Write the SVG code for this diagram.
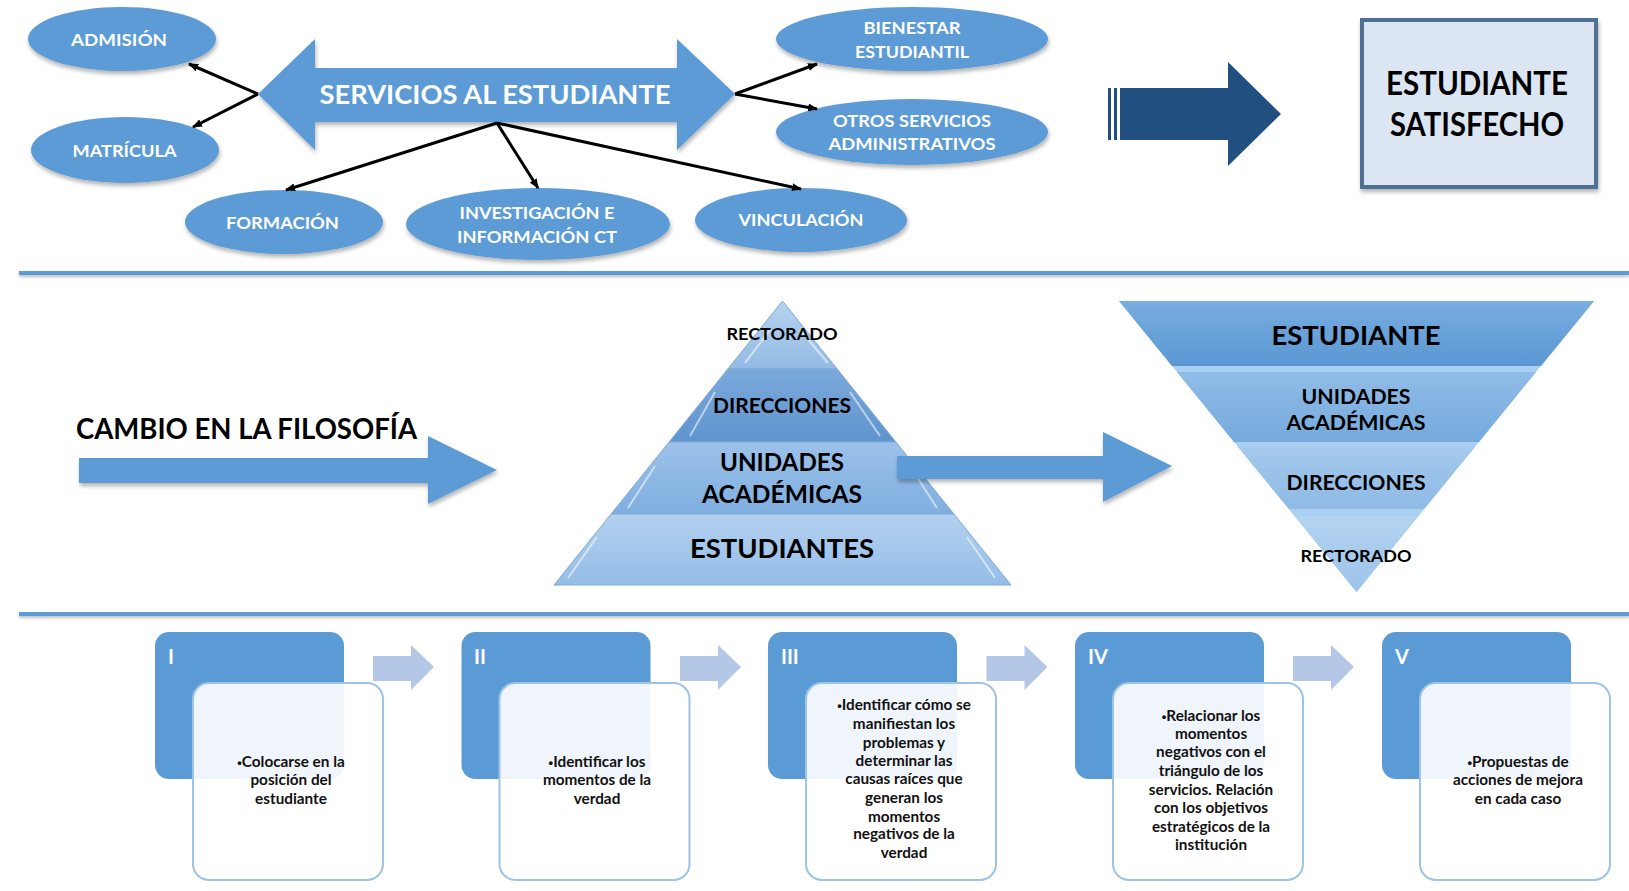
<svg xmlns="http://www.w3.org/2000/svg" width="1629" height="891" viewBox="0 0 1629 891">
<defs>
<style>
.ell{fill:#5B9BD5;filter:url(#sh)}
.wt{font-family:Lato,"Liberation Sans",sans-serif;font-weight:bold;fill:#fff;text-anchor:middle}
.bk{font-family:Lato,"Liberation Sans",sans-serif;font-weight:bold;fill:#000;text-anchor:middle}
.con{stroke:#000;stroke-width:3;fill:none;marker-end:url(#ah)}
.sep{fill:#5B9BD5;filter:url(#sh2)}
.blue{fill:#5B9BD5}
.card{fill:#fff;fill-opacity:0.9;stroke:#9DC3E6;stroke-width:2}
.sarr{fill:#B4C7E7}
.st{font-family:Lato,"Liberation Sans",sans-serif;font-weight:bold;font-size:15.3px;fill:#111;text-anchor:middle}
.bu{font-family:"Liberation Sans",sans-serif;font-size:13px}
.num{font-family:Lato,"Liberation Sans",sans-serif;font-weight:bold;font-size:20px;fill:#fff}
.pt{stroke:#7FA9D6;stroke-width:1}
</style>
<marker id="ah" markerWidth="10" markerHeight="8" refX="9" refY="4" orient="auto" markerUnits="userSpaceOnUse">
<path d="M0,0 L10,4 L0,8 Z" fill="#000"/>
</marker>
<filter id="sh" x="-20%" y="-20%" width="140%" height="150%">
<feDropShadow dx="1" dy="3" stdDeviation="2" flood-color="#000" flood-opacity="0.3"/>
</filter>
<filter id="sh2" x="-5%" y="-100%" width="110%" height="400%">
<feDropShadow dx="0" dy="2" stdDeviation="1.5" flood-color="#000" flood-opacity="0.25"/>
</filter>
<linearGradient id="g1" x1="0" y1="0" x2="0" y2="1"><stop offset="0" stop-color="#B7D3EF"/><stop offset="1" stop-color="#93BBE4"/></linearGradient>
<linearGradient id="g2" x1="0" y1="0" x2="0" y2="1"><stop offset="0" stop-color="#7BA9DB"/><stop offset="1" stop-color="#5F94CE"/></linearGradient>
<linearGradient id="g3" x1="0" y1="0" x2="0" y2="1"><stop offset="0" stop-color="#9CC2EA"/><stop offset="1" stop-color="#7FAEDF"/></linearGradient>
<linearGradient id="g4" x1="0" y1="0" x2="0" y2="1"><stop offset="0" stop-color="#B3D1F0"/><stop offset="1" stop-color="#95BDE7"/></linearGradient>
<linearGradient id="i1" x1="0" y1="0" x2="0" y2="1"><stop offset="0" stop-color="#78ADE0"/><stop offset="1" stop-color="#5A97D2"/></linearGradient>
<linearGradient id="i2" x1="0" y1="0" x2="0" y2="1"><stop offset="0" stop-color="#90BCE7"/><stop offset="1" stop-color="#76AADD"/></linearGradient>
<linearGradient id="i3" x1="0" y1="0" x2="0" y2="1"><stop offset="0" stop-color="#A4C9EC"/><stop offset="1" stop-color="#8EBAE5"/></linearGradient>
<linearGradient id="i4" x1="0" y1="0" x2="0" y2="1"><stop offset="0" stop-color="#B4D3F0"/><stop offset="1" stop-color="#9CC3EA"/></linearGradient>
</defs>
<rect width="1629" height="891" fill="#fff"/>

<!-- top section -->
<g id="servicios">
<path d="M258,94 L315,39 V68 H677 V39 L735,94 L677,150 V122 H315 V150 Z" fill="#5B9BD5" filter="url(#sh)"/>
<text class="wt" x="495" y="104" font-size="26" textLength="351" lengthAdjust="spacingAndGlyphs">SERVICIOS AL ESTUDIANTE</text>
</g>
<g id="admision"><ellipse class="ell" cx="122" cy="39" rx="94" ry="32"/><text class="wt" x="119" y="46" font-size="17" textLength="96" lengthAdjust="spacingAndGlyphs">ADMISIÓN</text></g>
<g id="matricula"><ellipse class="ell" cx="125" cy="150" rx="94" ry="33"/><text class="wt" x="124.5" y="157" font-size="17" textLength="104" lengthAdjust="spacingAndGlyphs">MATRÍCULA</text></g>
<g id="formacion"><ellipse class="ell" cx="284" cy="222" rx="99" ry="32"/><text class="wt" x="282.5" y="228.5" font-size="17" textLength="113" lengthAdjust="spacingAndGlyphs">FORMACIÓN</text></g>
<g id="investigacion"><ellipse class="ell" cx="538" cy="224" rx="132" ry="36"/><text class="wt" x="537" y="219" font-size="17" textLength="155" lengthAdjust="spacingAndGlyphs">INVESTIGACIÓN E</text><text class="wt" x="537" y="243" font-size="17" textLength="160" lengthAdjust="spacingAndGlyphs">INFORMACIÓN CT</text></g>
<g id="vinculacion"><ellipse class="ell" cx="801" cy="220" rx="106" ry="32"/><text class="wt" x="801" y="226" font-size="17" textLength="125" lengthAdjust="spacingAndGlyphs">VINCULACIÓN</text></g>
<g id="bienestar"><ellipse class="ell" cx="912" cy="39" rx="136" ry="32"/><text class="wt" x="912" y="34" font-size="17" textLength="97" lengthAdjust="spacingAndGlyphs">BIENESTAR</text><text class="wt" x="912" y="58" font-size="17" textLength="114" lengthAdjust="spacingAndGlyphs">ESTUDIANTIL</text></g>
<g id="otros"><ellipse class="ell" cx="912" cy="132" rx="136" ry="33"/><text class="wt" x="912" y="127" font-size="17" textLength="158" lengthAdjust="spacingAndGlyphs">OTROS SERVICIOS</text><text class="wt" x="912" y="149.5" font-size="17" textLength="167" lengthAdjust="spacingAndGlyphs">ADMINISTRATIVOS</text></g>

<g id="connectors">
<line class="con" x1="258" y1="94" x2="189" y2="64"/>
<line class="con" x1="258" y1="94" x2="193" y2="127"/>
<line class="con" x1="497" y1="123" x2="286" y2="190"/>
<line class="con" x1="497" y1="123" x2="538" y2="188"/>
<line class="con" x1="497" y1="123" x2="801" y2="189"/>
<line class="con" x1="735" y1="94" x2="817" y2="64"/>
<line class="con" x1="735" y1="94" x2="817" y2="109"/>
</g>

<g id="flecha-oscura" fill="#215080">
<rect x="1108" y="88" width="3" height="52"/>
<rect x="1114" y="88" width="3" height="52"/>
<path d="M1120,88 H1228 V62 L1281,114 L1228,166 V140 H1120 Z"/>
</g>

<g id="satisfecho">
<rect x="1362" y="20" width="234" height="167" fill="#DCE6F2" stroke="#4F6F95" stroke-width="4" filter="url(#sh)"/>
<text class="bk" x="1477" y="95" font-size="33" textLength="182" lengthAdjust="spacingAndGlyphs">ESTUDIANTE</text>
<text class="bk" x="1477" y="135.5" font-size="33" textLength="174" lengthAdjust="spacingAndGlyphs">SATISFECHO</text>
</g>

<rect class="sep" x="19" y="271" width="1610" height="4"/>
<rect class="sep" x="19" y="612" width="1610" height="4"/>

<!-- middle section -->
<g id="cambio">
<text class="bk" x="76" y="439" font-size="28" style="text-anchor:start" textLength="341" lengthAdjust="spacingAndGlyphs">CAMBIO EN LA FILOSOFÍA</text>
<path d="M79,458 H428 V436 L497,470 L428,504 V483 H79 Z" fill="#5B9BD5" filter="url(#sh)"/>
</g>

<g id="piramide">
<polygon points="782.5,301 837.2,369 727.8,369" fill="url(#g1)" class="pt"/>
<polygon points="727.8,369 837.2,369 895.9,442 669.1,442" fill="url(#g2)" class="pt"/>
<polygon points="669.1,442 895.9,442 953.9,514 611.1,514" fill="url(#g3)" class="pt"/>
<polygon points="611.1,514 953.9,514 1011,585 554,585" fill="url(#g4)" class="pt"/>
<g stroke="#fff" stroke-opacity="0.55" stroke-width="2" fill="none">
<path d="M770,330 L745,363 M828,363 L800,330"/>
<path d="M715,392 L690,436 M880,436 L850,392"/>
<path d="M655,466 L628,508 M937,508 L910,466"/>
<path d="M597,537 L568,578 M995,578 L967,537"/>
</g>
<text class="bk" x="782" y="339.5" font-size="17" textLength="111" lengthAdjust="spacingAndGlyphs">RECTORADO</text>
<text class="bk" x="782" y="412.5" font-size="21" textLength="138" lengthAdjust="spacingAndGlyphs">DIRECCIONES</text>
<text class="bk" x="782" y="471" font-size="25" textLength="124" lengthAdjust="spacingAndGlyphs">UNIDADES</text>
<text class="bk" x="782" y="502.5" font-size="25" textLength="160" lengthAdjust="spacingAndGlyphs">ACADÉMICAS</text>
<text class="bk" x="782" y="558" font-size="26" textLength="184" lengthAdjust="spacingAndGlyphs">ESTUDIANTES</text>
</g>

<g id="flecha-media">
<path d="M897,456 H1103 V432 L1172,466 L1103,502 V479 H897 Z" fill="#5B9BD5" filter="url(#sh)"/>
</g>

<g id="piramide-invertida">
<polygon points="1119,301 1594,301 1356.5,592" fill="#A9D0F2"/>
<polygon points="1119,301 1594,301 1541,366 1172,366" fill="url(#i1)"/>
<polygon points="1177,372 1536,372 1479,442 1234,442" fill="url(#i2)"/>
<polygon points="1238,447 1475,447 1424,509 1289,509" fill="url(#i3)"/>
<polygon points="1294.5,516 1418.5,516 1356.5,592" fill="url(#i4)"/>
<text class="bk" x="1356" y="345" font-size="26" textLength="169" lengthAdjust="spacingAndGlyphs">ESTUDIANTE</text>
<text class="bk" x="1356" y="403.5" font-size="21" textLength="109" lengthAdjust="spacingAndGlyphs">UNIDADES</text>
<text class="bk" x="1356" y="429.5" font-size="21" textLength="139" lengthAdjust="spacingAndGlyphs">ACADÉMICAS</text>
<text class="bk" x="1356" y="489.5" font-size="21" textLength="139" lengthAdjust="spacingAndGlyphs">DIRECCIONES</text>
<text class="bk" x="1356" y="562" font-size="17" textLength="111" lengthAdjust="spacingAndGlyphs">RECTORADO</text>
</g>

<!-- bottom steps -->
<g id="paso-1">
<rect class="blue" x="155" y="632" width="189" height="147" rx="14"/>
<text class="num" x="168" y="664">I</text>
<rect class="card" x="193" y="683" width="190" height="197" rx="16"/>
<text class="st" x="291" y="767"><tspan class="bu">•</tspan>Colocarse en la</text>
<text class="st" x="291" y="785">posición del</text>
<text class="st" x="291" y="804">estudiante</text>
</g>
<g id="paso-2">
<rect class="blue" x="461.5" y="632" width="189" height="147" rx="14"/>
<text class="num" x="474" y="664">II</text>
<rect class="card" x="499.5" y="683" width="190" height="197" rx="16"/>
<text class="st" x="597" y="767"><tspan class="bu">•</tspan>Identificar los</text>
<text class="st" x="597" y="785">momentos de la</text>
<text class="st" x="597" y="804">verdad</text>
</g>
<g id="paso-3">
<rect class="blue" x="768" y="632" width="189" height="147" rx="14"/>
<text class="num" x="781" y="664">III</text>
<rect class="card" x="806" y="683" width="190" height="197" rx="16"/>
<text class="st" x="904" y="710"><tspan class="bu">•</tspan>Identificar cómo se</text>
<text class="st" x="904" y="729">manifiestan los</text>
<text class="st" x="904" y="748">problemas y</text>
<text class="st" x="904" y="766">determinar las</text>
<text class="st" x="904" y="784">causas raíces que</text>
<text class="st" x="904" y="803">generan los</text>
<text class="st" x="904" y="822">momentos</text>
<text class="st" x="904" y="839">negativos de la</text>
<text class="st" x="904" y="858">verdad</text>
</g>
<g id="paso-4">
<rect class="blue" x="1075" y="632" width="189" height="147" rx="14"/>
<text class="num" x="1088" y="664">IV</text>
<rect class="card" x="1113" y="683" width="190" height="197" rx="16"/>
<text class="st" x="1211" y="721"><tspan class="bu">•</tspan>Relacionar los</text>
<text class="st" x="1211" y="739">momentos</text>
<text class="st" x="1211" y="757">negativos con el</text>
<text class="st" x="1211" y="776">triángulo de los</text>
<text class="st" x="1211" y="795">servicios. Relación</text>
<text class="st" x="1211" y="813">con los objetivos</text>
<text class="st" x="1211" y="832">estratégicos de la</text>
<text class="st" x="1211" y="850">institución</text>
</g>
<g id="paso-5">
<rect class="blue" x="1382" y="632" width="189" height="147" rx="14"/>
<text class="num" x="1395" y="664">V</text>
<rect class="card" x="1420" y="683" width="190" height="197" rx="16"/>
<text class="st" x="1518" y="767"><tspan class="bu">•</tspan>Propuestas de</text>
<text class="st" x="1518" y="785">acciones de mejora</text>
<text class="st" x="1518" y="804">en cada caso</text>
</g>
<g id="step-arrows">
<path class="sarr" d="M373,656 H411 V645 L434,667 L411,690 V681 H373 Z"/>
<path class="sarr" d="M680,656 H718 V645 L741,667 L718,690 V681 H680 Z"/>
<path class="sarr" d="M986.5,656 H1024.5 V645 L1047.5,667 L1024.5,690 V681 H986.5 Z"/>
<path class="sarr" d="M1293,656 H1331 V645 L1354,667 L1331,690 V681 H1293 Z"/>
</g>
</svg>
